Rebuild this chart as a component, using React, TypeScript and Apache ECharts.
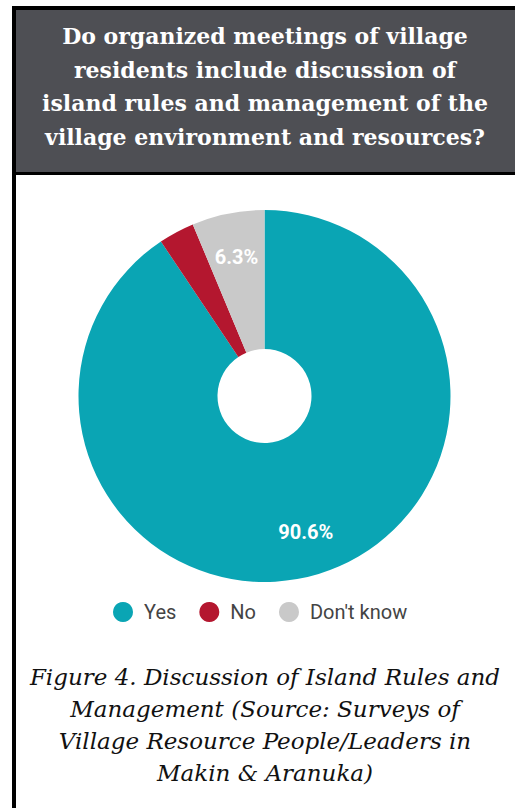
import React, { useEffect, useRef } from "react";
import * as echarts from "echarts";

const categories = ["Yes", "No", "Don't know"];
const values = [90.6, 3.1, 6.3];
const colors = ["#0aa5b4", "#b4172f", "#c9c9c9"];
const showLabel = [true, false, true];
const titleLines = [
  "Do organized meetings of village",
  "residents include discussion of",
  "island rules and management of the",
  "village environment and resources?",
];
const captionLines = [
  "Figure 4. Discussion of Island Rules and",
  "Management (Source: Surveys of",
  "Village Resource People/Leaders in",
  "Makin & Aranuka)",
];

export default function App() {
  const ref = useRef<HTMLDivElement>(null);
  useEffect(() => {
    if (!ref.current) return;
    const chart = echarts.init(ref.current, null, { renderer: "svg" });
    const pieData = categories.map((name, i) => ({
      name,
      value: values[i],
      itemStyle: { color: colors[i] },
    }));
    const labelData = categories.map((name, i) => ({
      name,
      value: values[i],
      label: { show: showLabel[i] },
    }));
    chart.setOption({
      animation: false,
      backgroundColor: "#ffffff",
      legend: {
        data: categories,
        top: 597,
        left: 108,
        icon: "circle",
        itemWidth: 20,
        itemHeight: 20,
        itemGap: 23,
        textStyle: {
          fontFamily: "Roboto",
          fontSize: 20,
          color: "#444",
          padding: [0, 0, 0, 6],
        },
        selectedMode: false,
      },
      graphic: [
        { type: "rect", shape: { x: 12, y: 6, width: 503, height: 169 }, style: { fill: "#000" } },
        { type: "rect", shape: { x: 16, y: 10, width: 499, height: 162 }, style: { fill: "#4e4f54" } },
        { type: "rect", shape: { x: 12, y: 6, width: 4, height: 802 }, style: { fill: "#000" } },
        {
          type: "text",
          x: 265,
          y: 19,
          style: {
            text: titleLines.join("\n"),
            fill: "#ffffff",
            font: "bold 22px 'DejaVu Serif'",
            textAlign: "center",
            lineHeight: 33.7,
          },
        },
        {
          type: "text",
          x: 265,
          y: 661,
          style: {
            text: captionLines.join("\n"),
            fill: "#111",
            font: "italic 23px 'DejaVu Serif'",
            textAlign: "center",
            lineHeight: 32,
          },
        },
      ],
      series: [
        {
          type: "pie",
          center: [264.5, 396],
          radius: [47, 186],
          startAngle: 90,
          clockwise: true,
          label: { show: false },
          labelLine: { show: false },
          silent: true,
          data: pieData,
        },
        {
          type: "pie",
          center: [264.5, 396],
          radius: [92, 186],
          startAngle: 90,
          clockwise: true,
          silent: true,
          itemStyle: { color: "rgba(0,0,0,0)" },
          label: {
            show: true,
            position: "inside",
            formatter: "{c}%",
            color: "#fff",
            fontFamily: "Roboto",
            fontWeight: "bold",
            fontSize: 20,
          },
          labelLine: { show: false },
          data: labelData,
        },
      ],
    });
    return () => chart.dispose();
  }, []);
  return (
    <div
      ref={ref}
      style={{ position: "fixed", left: 0, top: 0, width: 515, height: 808 }}
    />
  );
}
